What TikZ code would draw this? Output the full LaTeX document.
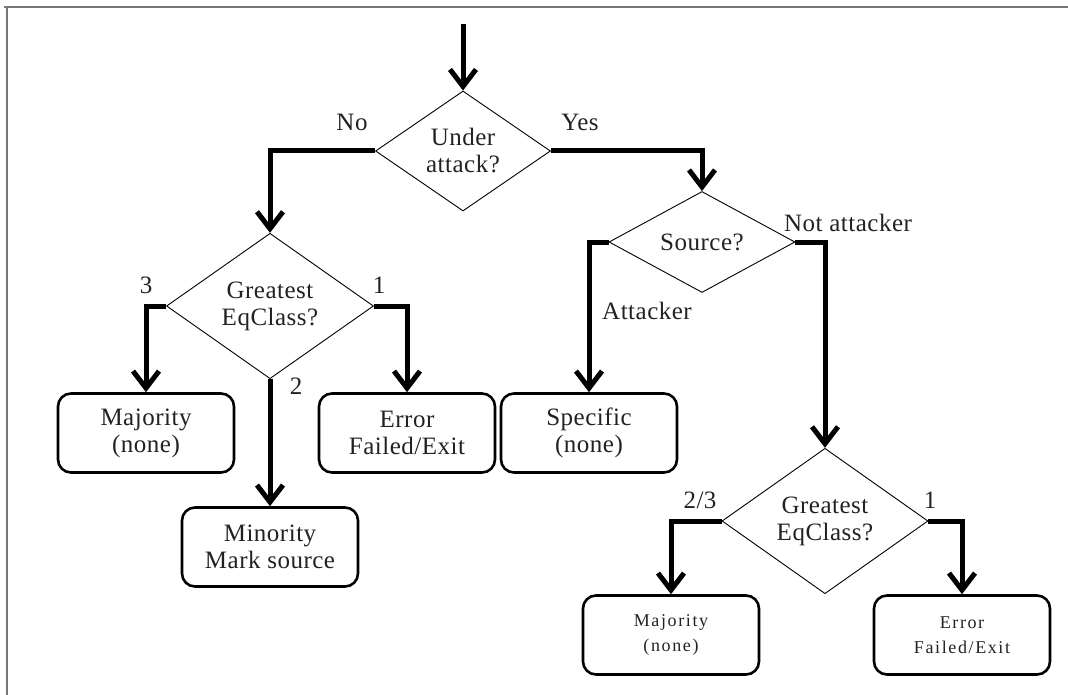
\documentclass[tikz,border=0pt]{standalone}
\usepackage{fontspec}
\setmainfont{Liberation Serif}[LetterSpace=2]
\usetikzlibrary{shapes.geometric,arrows.meta}
\definecolor{framegray}{HTML}{777777}
\definecolor{inkgray}{HTML}{222222}
\begin{document}
\begin{tikzpicture}[x=1pt,y=-1pt,
  every node/.style={font=\fontsize{25}{27}\selectfont, text=inkgray, align=center, inner sep=0pt},
  decision/.style n args={2}{draw, line width=0.9pt, diamond, minimum width=#1, minimum height=#2},
  outcome/.style={draw, line width=2.6pt, rounded corners=13pt, minimum width=176pt, minimum height=79pt},
  smalltext/.style={font=\fontsize{18}{25}\selectfont\addfontfeature{LetterSpace=9}},
  conn/.style={line width=5pt, line join=miter, -{Straight Barb[length=17pt,width=26pt]}}]
\useasboundingbox (0,0) rectangle (1068,695);

% partial frame along the top and left edges
\draw[framegray, line width=2.4pt] (4,7) -- (1068,7);
\draw[framegray, line width=2.4pt] (7,7) -- (7,695);

% decisions
\node[decision={175}{120}] (d1) at (463,151) {Under\\attack?};
\node[decision={207}{122}] (d2) at (270,306) {Greatest\\EqClass?};
\node[decision={186}{101}] (d3) at (702,242) {Source?};
\node[decision={206}{124}] (d4) at (825,521) {Greatest\\EqClass?};

% outcomes
\node[outcome] (maj) at (146,433) {Majority\\(none)};
\node[outcome] (err) at (407,433) {Error\\Failed/Exit};
\node[outcome] (min) at (270,547) {Minority\\Mark source};
\node[outcome] (spec) at (589,433) {Specific\\(none)};
\node[outcome, smalltext] (maj2) at (671,635) {Majority\\(none)};
\node[outcome, smalltext] (err2) at (962,635) {Error\\Failed/Exit};

% entry point
\coordinate (start) at (463,24);

% connectors
\draw[conn] (start) -- (d1.north);
\draw[conn] (d1.west) -| (d2.north);
\draw[conn] (d1.east) -| (d3.north);
\draw[conn] (d2.west) -| (maj.north);
\draw[conn] (d2.east) -| (err.north);
\draw[conn] (d2.south) -- (min.north);
\draw[conn] (d3.west) -| (spec.north);
\draw[conn] (d3.east) -| (d4.north);
\draw[conn] (d4.west) -| (maj2.north);
\draw[conn] (d4.east) -| (err2.north);

% branch labels
\node (lno) at (352,122) {No};
\node (lyes) at (580,122) {Yes};
\node (l3) at (146,285) {3};
\node (l1) at (379,285) {1};
\node (l2) at (296,386) {2};
\node (lnot) at (848,223) {Not attacker};
\node (latt) at (647,311) {Attacker};
\node (l23) at (700,500) {2/3};
\node (l1b) at (930,500) {1};
\end{tikzpicture}
\end{document}
